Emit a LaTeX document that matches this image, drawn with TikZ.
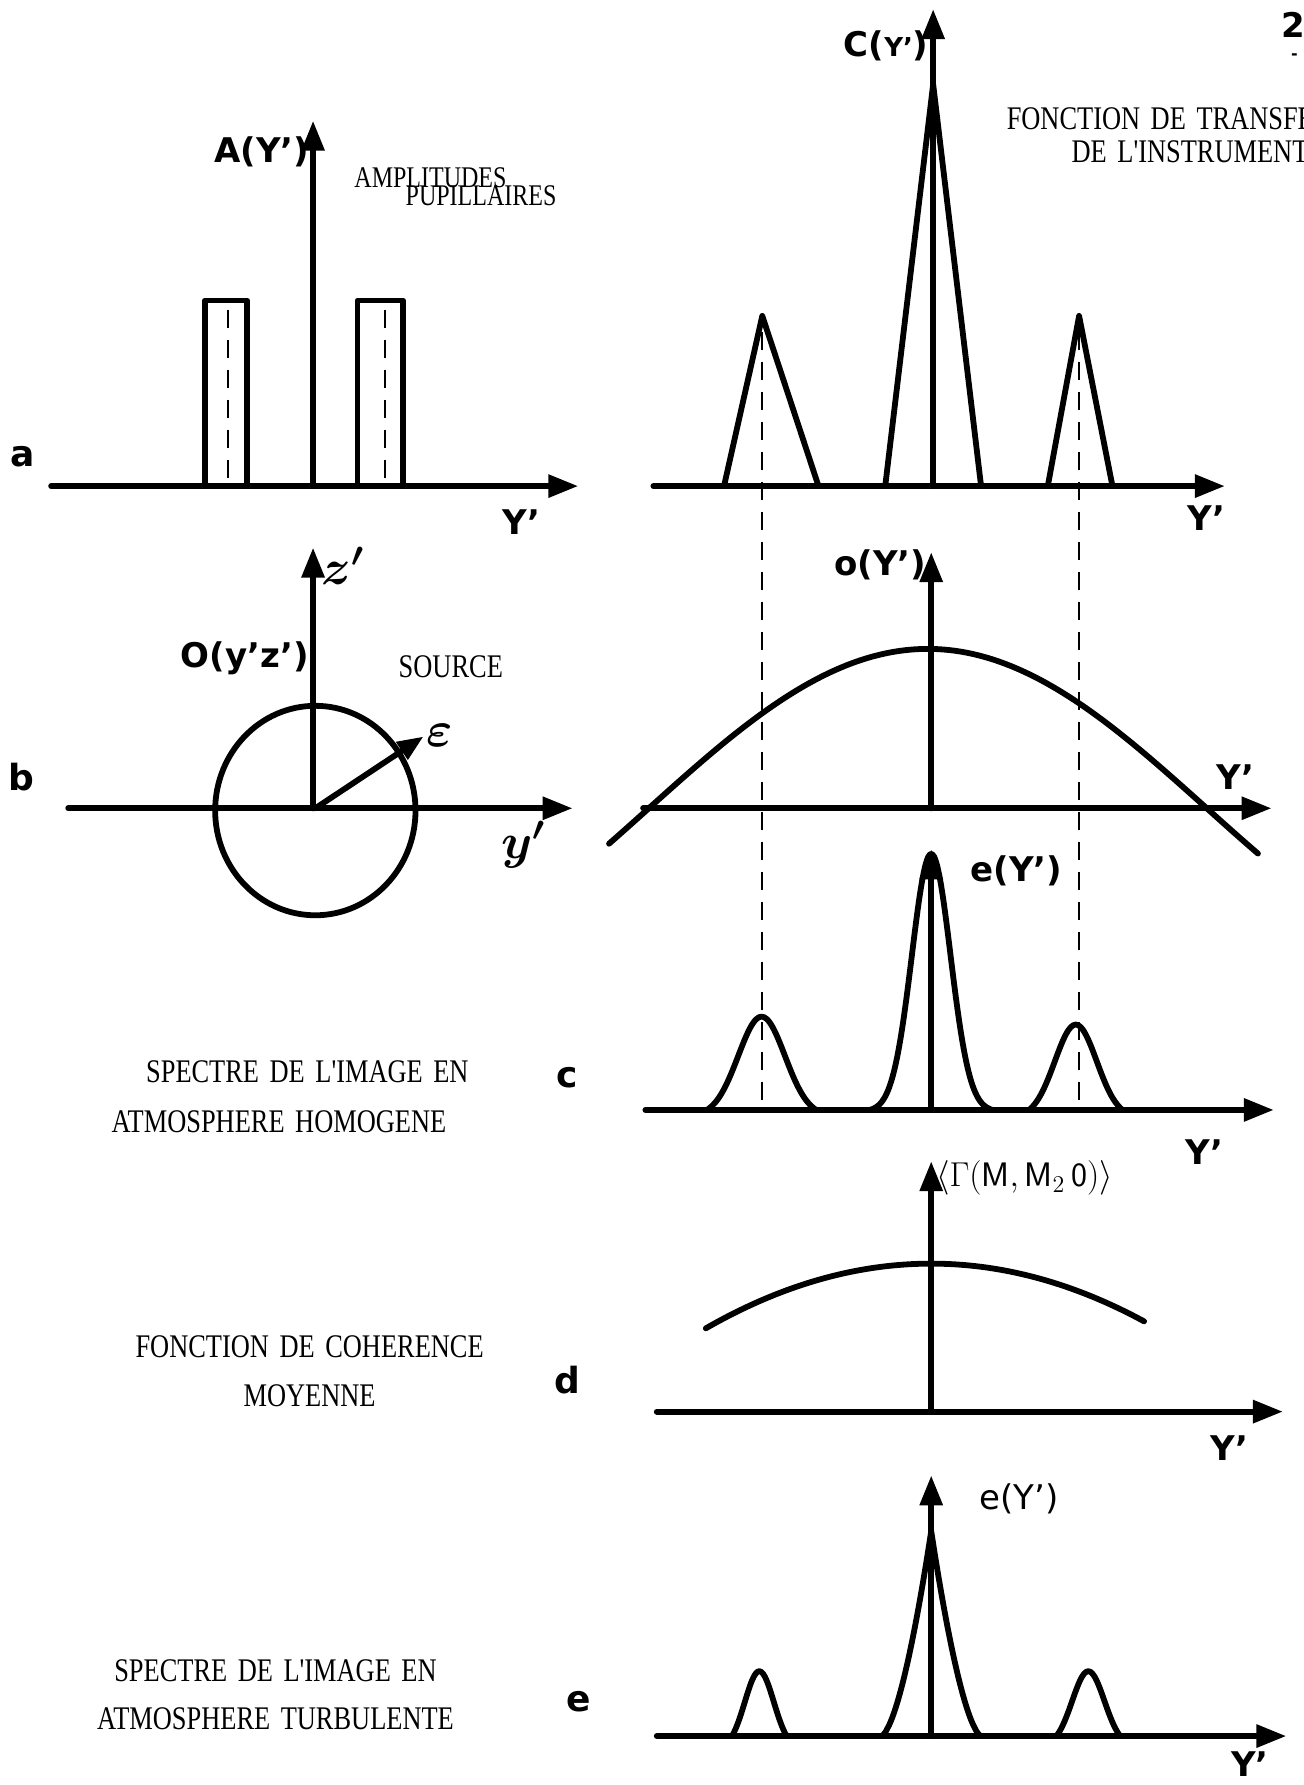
\documentclass[tikz,border=0pt]{standalone}
\usepackage{fontspec}
\usetikzlibrary{arrows.meta}
\newfontfamily\typed[FakeStretch=0.8, WordSpace=1.6]{Liberation Serif}
\newfontfamily\hand{DejaVu Sans}

\begin{document}
\begin{tikzpicture}[x=0.02cm, y=-0.02cm,
  axe/.style={line width=3pt, line cap=round, -{Triangle[length=15pt, width=11pt]}},
  trace/.style={line width=2.9pt, line join=round, line cap=round},
  tirets/.style={line width=1.1pt, dash pattern=on 9pt off 6pt},
  lettre/.style={font=\hand\bfseries\fontsize{18}{20}\selectfont, inner sep=0pt},
  etiq/.style={font=\hand\bfseries\fontsize{17}{20}\selectfont, inner sep=0pt},
  main/.style={font=\hand\fontsize{17}{20}\selectfont, inner sep=0pt},
  texte/.style={font=\typed\fontsize{16.5}{19}\selectfont, inner sep=0pt}]
  \fill[white] (0,0) rectangle (1145,1568);
  \useasboundingbox (0,0) rectangle (1145,1568);
  \clip (0,0) rectangle (1145,1568);

  % a : amplitudes pupillaires
  \draw[axe] (45,427) -- (508,427);
  \draw[axe] (275,427) -- (275,106);
  \foreach \xg/\xd/\xm in {180/217/200, 314/354/338}
  {
    \draw[trace] (\xg,427) -- (\xg,264) -- (\xd,264) -- (\xd,427);
    \draw[tirets] (\xm,272) -- (\xm,427);
  }
  \node[lettre] (la) at (20,401) {a};
  \node[etiq, left] (lA) at (272,133) {A(Y’)};
  \node[texte, right, font=\typed\fontsize{15}{16}\selectfont] (lampl) at (311,156) {AMPLITUDES};
  \node[texte, right, font=\typed\fontsize{15}{16}\selectfont] (lpup) at (356,172) {PUPILLAIRES};
  \node[etiq] (lya) at (458,459) {Y’};

  % a : fonction de transfert
  \draw[axe] (574,427) -- (1076,427);
  \draw[trace] (636,427) -- (669.6,277.5) -- (719,427);
  \draw[trace] (777.6,427) -- (819.7,74) -- (861.8,427);
  \draw[trace] (920.4,427) -- (947.9,277.5) -- (977.2,427);
  \draw[axe] (819.7,427) -- (819.7,8);
  \node[etiq, left] (lC) at (816,40) {C({\fontsize{13}{13}\selectfont Y’})};
  \node[etiq] (lpage) at (1136,22) {2};
  \node[etiq, font=\hand\bfseries\fontsize{8}{8}\selectfont] (ltiret) at (1137,50) {-};
  \node[texte, right] (lft) at (884,104) {FONCTION DE TRANSFERT};
  \node[texte, right] (lfi) at (941,133) {DE L'INSTRUMENT};
  \node[etiq] (lyc) at (1060,455) {Y’};

  % reperes des pics
  \foreach \xp in {669.6, 947.9}
    \draw[tirets] (\xp,292) -- (\xp,975);

  % b : source
  \draw[axe] (60,710) -- (503,710);
  \draw[axe] (275,710) -- (275,481);
  \draw[trace] (277,712) ellipse[x radius=88, y radius=92];
  \draw[trace, -{Triangle[length=13pt, width=10pt]}] (277,710) -- (372,647);
  \node[lettre] (lb) at (19,683) {b};
  \node[main, font=\boldmath\fontsize{23}{23}\selectfont] (lz) at (301,497) {$z'$};
  \node[etiq] (lO) at (215,578) {O(y’z’)};
  \node[texte] (lsource) at (396,586) {SOURCE};
  \node[main, font=\boldmath\fontsize{23}{23}\selectfont] (leps) at (386,646) {$\varepsilon$};
  \node[main, font=\boldmath\fontsize{23}{23}\selectfont] (ly) at (460,742) {$y'$};

  % b : objet
  \draw[axe] (565,710) -- (1117,710);
  \draw[axe] (818,710) -- (818,485);
  \draw[trace] plot[domain=535:1105, samples=80, smooth]
    (\x, {710-140*cos(0.3673*(\x-815))});
  \node[etiq, left] (lo) at (814,496) {o(Y’)};
  \node[etiq] (lyb) at (1085,683) {Y’};

  % c : atmosphere homogene
  \draw[axe] (567,975) -- (1119,975);
  \draw[axe] (818,975) -- (818,746);
  \foreach \xc/\xh/\xw/\xs in {669/82/48/29, 818/225/54/24, 945/75/41/26}
    \draw[trace] plot[domain=-\xw:\xw, samples=41, smooth]
      ({\xc+\x}, {975-\xh*(exp(-(\x*\x)/(\xs*\xs))-exp(-(\xw*\xw)/(\xs*\xs)))/(1-exp(-(\xw*\xw)/(\xs*\xs)))});
  \node[lettre] (lc) at (498,947) {c};
  \node[etiq] (le) at (893,765) {e(Y’)};
  \node[texte] (lsa) at (270,941) {SPECTRE DE L'IMAGE EN};
  \node[texte] (lsb) at (245,985) {ATMOSPHERE HOMOGENE};
  \node[etiq] (lyd) at (1058,1012) {Y’};

  % d : coherence moyenne
  \draw[axe] (577,1240) -- (1127,1240);
  \draw[axe] (818,1240) -- (818,1020);
  \draw[trace] plot[domain=620:1005, samples=50, smooth]
    (\x, {1110+14.5*((\x-818)/100)*((\x-818)/100)});
  \node[lettre] (ld) at (498,1212) {d};
  \node[main, right, font=\fontsize{17}{20}\selectfont] (lgamma) at (822,1035)
    {$\langle\Gamma(\mathsf{M},\mathsf{M}_2\,\mathsf{0})\rangle$};
  \node[texte] (lfa) at (272,1183) {FONCTION DE COHERENCE};
  \node[texte] (lfb) at (272,1226) {MOYENNE};
  \node[etiq] (lye) at (1080,1272) {Y’};

  % e : atmosphere turbulente
  \draw[axe] (577,1525) -- (1130,1525);
  \draw[axe] (818,1525) -- (818,1296);
  \draw[trace] plot[domain=-43.9:43.9, samples=81]
    ({818+\x}, {1525-180*(1-abs(\x)/44)^1.6});
  \foreach \xc/\xh/\xw/\xs in {667/57/24/18, 956/57/28/20}
    \draw[trace] plot[domain=-\xw:\xw, samples=31, smooth]
      ({\xc+\x}, {1525-\xh*(exp(-(\x*\x)/(\xs*\xs))-exp(-(\xw*\xw)/(\xs*\xs)))/(1-exp(-(\xw*\xw)/(\xs*\xs)))});
  \node[lettre] (lee) at (508,1495) {e};
  \node[main] (lef) at (895,1317) {e(Y’)};
  \node[texte] (lta) at (242,1468) {SPECTRE DE L'IMAGE EN};
  \node[texte] (ltb) at (242,1510) {ATMOSPHERE TURBULENTE};
  \node[etiq] (lyf) at (1098,1550) {Y’};
\end{tikzpicture}
\end{document}
